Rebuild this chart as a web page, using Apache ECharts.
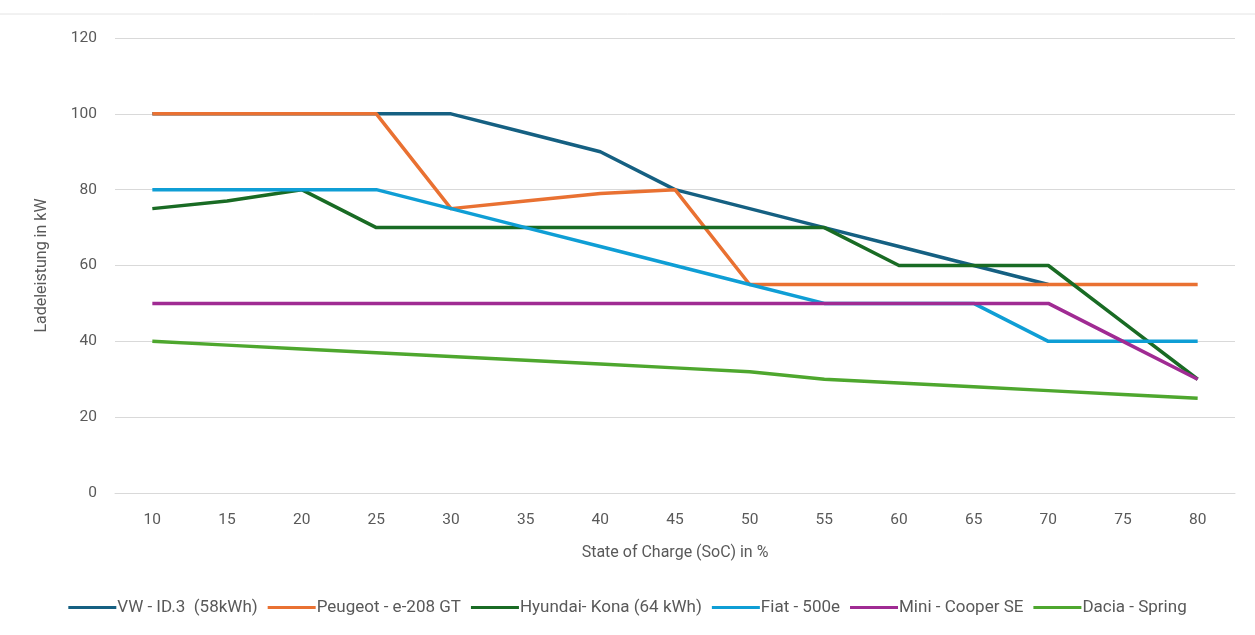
<!DOCTYPE html>
<html><head><meta charset="utf-8">
<script src="https://cdn.jsdelivr.net/npm/echarts@6/dist/echarts.min.js"></script>
<style>html,body{margin:0;padding:0;background:#fff}#c{width:1255px;height:635px}</style>
</head><body><div id="c"></div>
<script>
const categories = ['10','15','20','25','30','35','40','45','50','55','60','65','70','75','80'];
const seriesNames = ['VW - ID.3  (58kWh)','Peugeot - e-208 GT','Hyundai- Kona (64 kWh)','Fiat - 500e','Mini - Cooper SE','Dacia - Spring'];
const vw      = [100,100,100,100,100,95,90,80,75,70,65,60,55,null,null];
const peugeot = [100,100,100,100,75,77,79,80,55,55,55,55,55,55,55];
const hyundai = [75,77,80,70,70,70,70,70,70,70,60,60,60,45,30];
const fiat    = [80,80,80,80,75,70,65,60,55,50,50,50,40,40,40];
const mini    = [50,50,50,50,50,50,50,50,50,50,50,50,50,40,30];
const dacia   = [40,39,38,37,36,35,34,33,32,30,29,28,27,26,25];
const colors  = ['#156082','#E97132','#196B24','#0F9ED5','#A02B93','#4EA72E'];
const yTicks = [0,20,40,60,80,100,120];

const font = "'Roboto',sans-serif";
const data = [vw,peugeot,hyundai,fiat,mini,dacia];
const chart = echarts.init(document.getElementById('c'));
chart.setOption({
  animation:false,
  color: colors,
  textStyle:{fontFamily:font},
  graphic:[{type:'line',shape:{x1:0,y1:14,x2:1255,y2:14},style:{stroke:'#E4E4E4',lineWidth:1},silent:true}],
  grid:{left:115,right:20,top:38,bottom:142},
  legend:{
    bottom:14,left:'center',itemGap:10,itemWidth:48,itemHeight:3,
    icon:'rect',
    textStyle:{fontFamily:font,fontSize:17,color:'#595959',padding:[0,0,0,-4]},
    data:seriesNames
  },
  xAxis:{
    type:'category',data:categories,boundaryGap:true,
    name:'State of Charge (SoC) in %',nameLocation:'middle',nameGap:52,
    nameTextStyle:{fontFamily:font,fontSize:16,color:'#595959'},
    axisLine:{lineStyle:{color:'#D9D9D9',width:1}},
    axisTick:{show:false},
    axisLabel:{color:'#595959',fontSize:15.5,margin:19,fontFamily:font}
  },
  yAxis:{
    type:'value',min:0,max:120,interval:20,
    name:'Ladeleistung in kW',nameLocation:'middle',nameGap:65,
    nameTextStyle:{fontFamily:font,fontSize:16,color:'#595959'},
    axisLine:{show:false},axisTick:{show:false},
    axisLabel:{color:'#595959',fontSize:15.5,margin:18,fontFamily:font,
      formatter:v=>yTicks.includes(v)?String(v):''},
    splitLine:{lineStyle:{color:'#D9D9D9',width:1}}
  },
  series: seriesNames.map((n,i)=>({
    name:n,type:'line',data:data[i],symbol:'none',
    lineStyle:{width:3.5,color:colors[i],join:'round'},
    itemStyle:{color:colors[i]}
  }))
});
</script></body></html>
